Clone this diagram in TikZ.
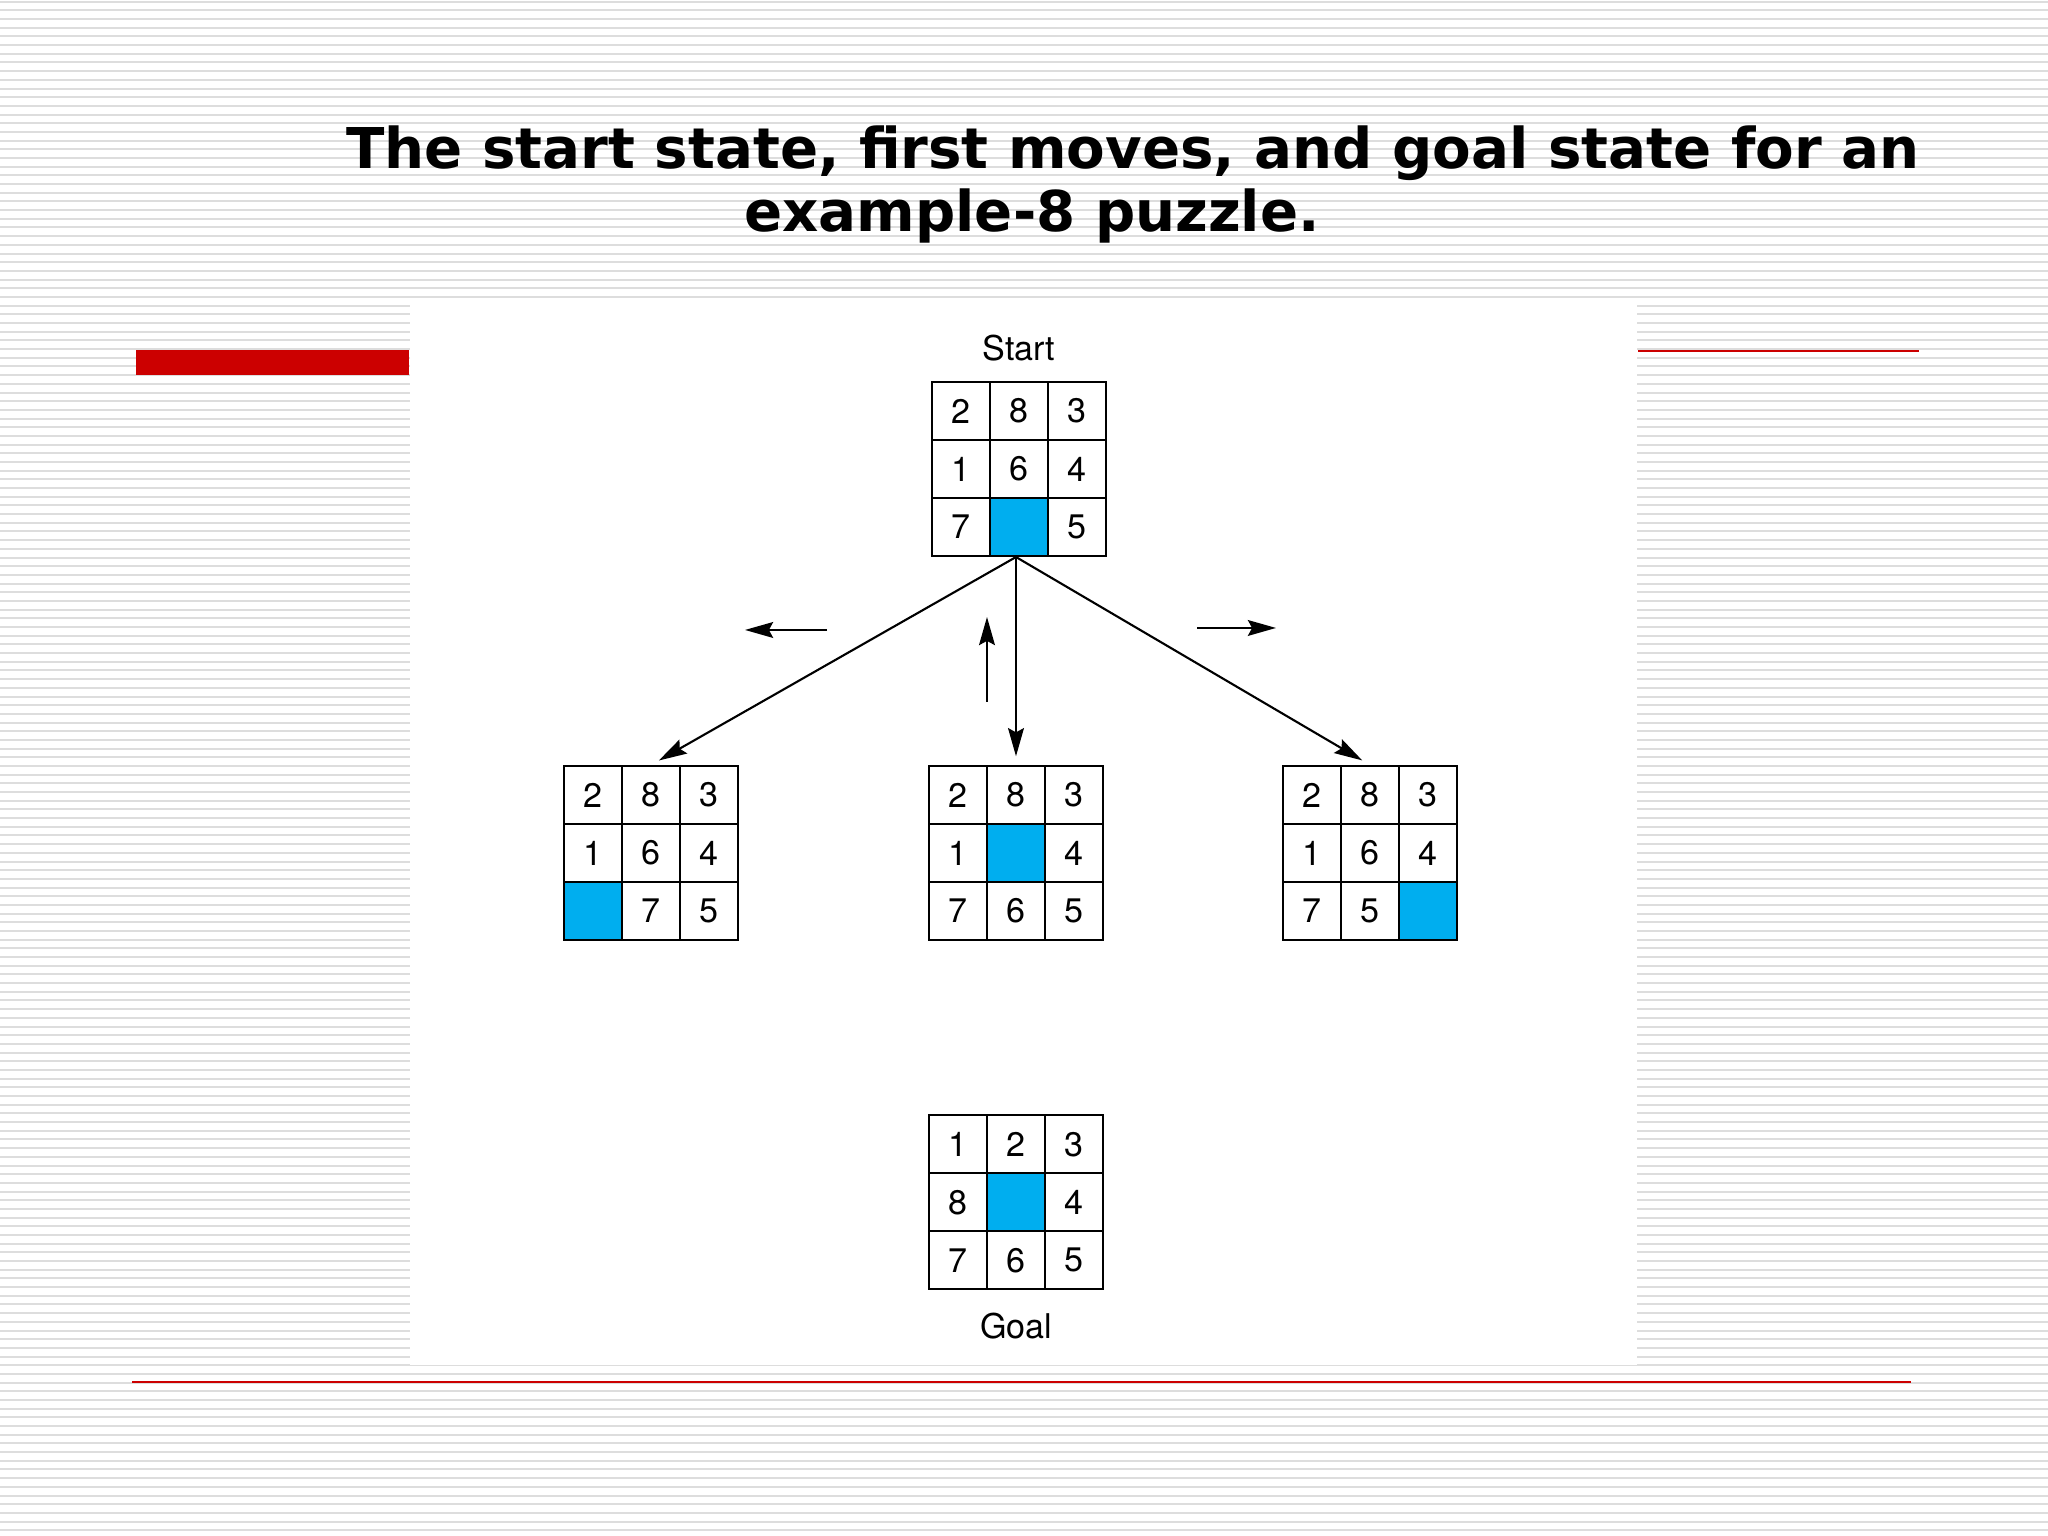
\documentclass[tikz,border=0pt]{standalone}
\usepackage{fontspec}
\usetikzlibrary{positioning, matrix, arrows.meta}
\newfontfamily\headfont{DejaVu Sans}
\newfontfamily\figfont{TeX Gyre Heros}
\definecolor{slidered}{RGB}{204,0,0}
\definecolor{stripe}{RGB}{221,221,221}
\definecolor{tilecyan}{RGB}{0,174,239}
\tikzset{
  puzzle/.style={matrix of nodes, nodes in empty cells, inner sep=0pt, outer sep=0pt,
    column sep=-0.6pt, row sep=-0.6pt,
    nodes={draw, line width=0.6pt, minimum size=0.58cm, inner sep=0pt, outer sep=0pt,
      anchor=center, font=\figfont\fontsize{9.7}{11}\selectfont}},
  emptycell/.style={fill=tilecyan},
  move/.style={-{Stealth[length=8pt,width=4.5pt,inset=1.2pt]}, line width=0.6pt},
  heading/.style={font=\headfont\bfseries\fontsize{16}{19}\selectfont, inner sep=0pt, anchor=base},
}

\begin{document}
\begin{tikzpicture}[node distance=2cm, auto]
  \useasboundingbox (0,0) rectangle (20.48,15.36);
  % slide background
  \foreach \k in {0,...,176}
    \draw[stripe, line width=0.57pt] (0,15.343-0.08685*\k) -- (20.48,15.343-0.08685*\k);
  \fill[white] (4.10,1.71) rectangle (16.37,12.33);
  \fill[slidered] (1.36,11.61) rectangle (4.09,11.86);
  \draw[slidered, line width=0.6pt] (16.38,11.85) -- (19.19,11.85);
  \draw[slidered, line width=0.5pt] (1.32,1.54) -- (19.11,1.54);

  \node[heading] (title1) at (11.33,13.67) {The start state, first moves, and goal state for an};
  \node[heading] (title2) at (10.32,13.04) {example-8 puzzle.};

  % puzzle states
  \matrix (s0) [puzzle] at (10.19,10.67) {
    2 & 8 & 3 \\
    1 & 6 & 4 \\
    7 & |[emptycell]| & 5 \\
  };
  \matrix (s2) [puzzle, below=2.08cm of s0, xshift=-0.03cm] {
    2 & 8 & 3 \\
    1 & |[emptycell]| & 4 \\
    7 & 6 & 5 \\
  };
  \matrix (s1) [puzzle, left=1.89cm of s2] {
    2 & 8 & 3 \\
    1 & 6 & 4 \\
    |[emptycell]| & 7 & 5 \\
  };
  \matrix (s3) [puzzle, right=1.78cm of s2] {
    2 & 8 & 3 \\
    1 & 6 & 4 \\
    7 & 5 & |[emptycell]| \\
  };
  \matrix (sg) [puzzle, below=1.73cm of s2] {
    1 & 2 & 3 \\
    8 & |[emptycell]| & 4 \\
    7 & 6 & 5 \\
  };
  \node (startlbl) [above=2pt of s0, font=\figfont\fontsize{9.7}{11}\selectfont] {Start};
  \node (goallbl) [below=3pt of sg, font=\figfont\fontsize{9.7}{11}\selectfont] {Goal};

  \coordinate (fork) at (s0.south -| s2.north);
  \path[move] (fork) edge[shorten >=2.6pt] (s1.north)
              (fork) edge[shorten >=2.5pt] (s2.north)
              (fork) edge[shorten >=2.6pt] (s3.north);

  % blank moves
  \coordinate (lfrom) at (8.27,9.06);
  \coordinate (lto) at (7.45,9.06);
  \coordinate (ufrom) at (9.87,8.34);
  \coordinate (uto) at (9.87,9.19);
  \coordinate (rfrom) at (11.97,9.08);
  \coordinate (rto) at (12.76,9.08);
  \draw[move] (lfrom) -- (lto);
  \draw[move] (ufrom) -- (uto);
  \draw[move] (rfrom) -- (rto);
\end{tikzpicture}
\end{document}
